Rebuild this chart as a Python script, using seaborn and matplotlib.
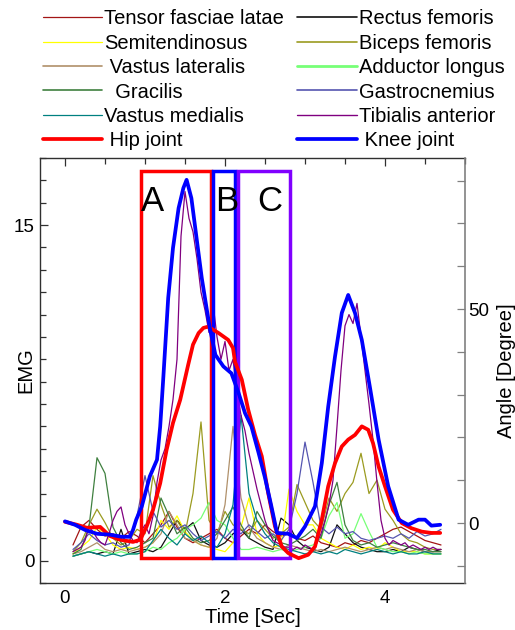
import pandas as pd
import seaborn as sns
import matplotlib.pyplot as plt
from matplotlib.lines import Line2D
from matplotlib.patches import Rectangle
from matplotlib.ticker import MultipleLocator, FixedLocator

# EMG sample times [s] (0.1 s steps)
time_emg = [0.1, 0.2, 0.3, 0.4, 0.5, 0.6, 0.7, 0.8, 0.9, 1.0,
            1.1, 1.2, 1.3, 1.4, 1.5, 1.6, 1.7, 1.8, 1.9, 2.0,
            2.1, 2.2, 2.3, 2.4, 2.5, 2.6, 2.7, 2.8, 2.9, 3.0,
            3.1, 3.2, 3.3, 3.4, 3.5, 3.6, 3.7, 3.8, 3.9, 4.0,
            4.1, 4.2, 4.3, 4.4, 4.5, 4.6, 4.7]

tensor_fasciae_latae = [0.7, 1.5, 1.8, 1.4, 1.1, 1.2, 1.0, 1.3, 1.1, 0.8,
                        1.2, 1.6, 2.2, 1.5, 1.0, 0.8, 1.0, 1.2, 1.4, 1.0,
                        0.8, 1.1, 1.4, 1.2, 1.6, 1.3, 1.1, 1.2, 1.0, 0.9,
                        1.1, 0.8, 0.7, 0.6, 0.8, 0.7, 0.9, 0.8, 1.0, 1.2,
                        1.4, 1.5, 1.3, 1.1, 0.9, 0.8, 0.7]
rectus_femoris = [0.2, 0.3, 0.4, 0.3, 0.4, 0.3, 1.4, 0.3, 0.4, 0.5,
                  0.4, 0.6, 1.2, 1.8, 1.4, 1.7, 0.9, 0.7, 0.6, 0.8,
                  1.2, 1.4, 1.0, 0.8, 0.6, 0.5, 1.9, 1.6, 0.9, 0.6,
                  0.5, 0.4, 0.6, 1.6, 1.2, 0.8, 0.6, 0.5, 0.4, 0.4,
                  0.5, 0.4, 0.6, 0.5, 0.4, 0.4, 0.5]
semitendinosus = [0.3, 0.6, 0.9, 1.5, 1.2, 0.7, 0.5, 0.6, 0.5, 0.6,
                  0.8, 1.8, 1.4, 2.0, 1.3, 0.9, 0.7, 0.6, 0.5, 0.4,
                  0.8, 1.5, 2.8, 1.2, 0.8, 0.6, 0.7, 3.2, 2.2, 1.6,
                  1.6, 1.0, 0.8, 0.6, 0.5, 0.7, 0.5, 0.6, 0.5, 0.8,
                  0.6, 0.4, 0.4, 0.4, 0.3, 0.3, 0.3]
biceps_femoris = [0.4, 0.8, 1.6, 2.3, 1.7, 1.0, 0.7, 0.9, 1.4, 1.2,
                  3.8, 2.5, 1.5, 1.8, 1.2, 3.0, 6.2, 1.8, 1.2, 2.2,
                  1.6, 1.4, 1.2, 1.8, 1.4, 1.0, 1.2, 1.5, 3.4, 2.6,
                  1.8, 1.4, 2.8, 2.2, 3.0, 3.5, 4.8, 3.0, 3.6, 2.3,
                  1.8, 1.2, 0.9, 0.8, 0.6, 0.5, 0.5]
vastus_lateralis = [0.3, 0.4, 0.6, 0.8, 0.5, 0.4, 0.5, 0.4, 0.5, 0.6,
                    0.8, 1.2, 2.2, 1.6, 1.0, 0.9, 0.7, 0.6, 1.0, 2.5,
                    6.0, 2.8, 1.5, 1.0, 0.8, 0.6, 0.5, 0.7, 0.6, 0.5,
                    0.4, 0.5, 0.4, 0.5, 0.6, 0.5, 0.4, 0.5, 0.6, 0.5,
                    0.6, 0.5, 0.4, 0.5, 0.4, 0.4, 0.4]
adductor_longus = [0.2, 0.3, 0.4, 0.5, 0.4, 0.3, 0.4, 0.3, 0.3, 0.4,
                   0.6, 0.5, 0.8, 1.0, 1.4, 1.6, 1.9, 2.6, 1.8, 1.6,
                   1.0, 0.5, 0.5, 0.6, 0.5, 0.4, 0.5, 0.4, 0.5, 0.6,
                   0.7, 1.0, 2.0, 2.6, 1.0, 1.2, 2.1, 1.3, 0.6, 0.5,
                   0.4, 0.4, 0.3, 0.4, 0.3, 0.3, 0.3]
gracilis = [0.3, 0.5, 1.5, 4.6, 3.9, 1.5, 0.8, 0.5, 0.6, 0.8,
            1.0, 2.8, 2.0, 1.2, 1.5, 1.0, 0.8, 0.9, 1.2, 1.8,
            2.4, 1.6, 1.0, 2.2, 1.6, 1.1, 0.8, 0.7, 0.9, 1.1,
            1.4, 1.0, 2.5, 3.5, 1.6, 0.9, 0.7, 0.8, 0.6, 0.7,
            0.8, 0.7, 0.6, 0.5, 0.5, 0.4, 0.4]
gastrocnemius = [0.5, 0.8, 1.2, 0.9, 0.7, 0.8, 0.6, 0.7, 2.0, 3.8,
                 2.2, 1.5, 1.8, 1.4, 1.6, 1.2, 0.9, 1.1, 1.3, 1.0,
                 1.4, 1.2, 1.6, 1.3, 1.0, 1.2, 0.9, 1.4, 3.0, 5.3,
                 3.5, 1.5, 1.2, 1.5, 1.2, 1.3, 1.0, 0.9, 1.0, 1.1,
                 1.0, 1.2, 1.0, 1.3, 1.1, 1.2, 1.4]
vastus_medialis = [0.2, 0.3, 0.4, 0.3, 0.2, 0.3, 0.2, 0.3, 0.3, 0.4,
                   0.9, 1.4, 1.0, 0.7, 1.2, 0.9, 1.1, 0.8, 0.6, 1.2,
                   2.5, 6.5, 3.0, 1.8, 1.2, 0.8, 0.6, 0.5, 0.4, 0.3,
                   0.4, 0.3, 0.4, 0.3, 0.5, 0.4, 0.3, 0.4, 0.5, 0.4,
                   0.3, 0.4, 0.3, 0.3, 0.4, 0.3, 0.3]

# Tibialis anterior read at 0.05 s steps (spiky signal)
time_ta = [0.10, 0.15, 0.20, 0.25, 0.30, 0.35, 0.40, 0.45, 0.50, 0.55,
           0.60, 0.65, 0.70, 0.75, 0.80, 0.85, 0.90, 0.95, 1.00, 1.05,
           1.10, 1.15, 1.20, 1.25, 1.30, 1.35, 1.40, 1.45, 1.50, 1.55,
           1.60, 1.65, 1.70, 1.75, 1.80, 1.85, 1.90, 1.95, 2.00, 2.05,
           2.10, 2.15, 2.20, 2.25, 2.30, 2.35, 2.40, 2.45, 2.50, 2.55,
           2.60, 2.65, 2.70, 2.75, 2.80, 2.85, 2.90, 2.95, 3.00, 3.05,
           3.10, 3.15, 3.20, 3.25, 3.30, 3.35, 3.40, 3.45, 3.50, 3.55,
           3.60, 3.65, 3.70, 3.75, 3.80, 3.85, 3.90, 3.95, 4.00, 4.05,
           4.10, 4.15, 4.20, 4.25, 4.30, 4.35, 4.40, 4.45, 4.50, 4.55,
           4.60, 4.65, 4.70]
tibialis_anterior = [0.4, 0.5, 0.6, 0.9, 1.5, 1.3, 1.0, 0.8, 0.7, 1.2,
                     1.8, 2.2, 2.4, 1.6, 1.2, 0.9, 0.8, 1.3, 1.6, 1.2,
                     2.0, 3.5, 4.5, 5.0, 6.0, 7.2, 9.0, 14.5, 16.5, 15.3,
                     14.7, 13.5, 12.0, 11.2, 10.2, 11.5, 10.0, 9.0, 9.8, 8.5,
                     9.0, 7.5, 6.5, 5.8, 4.8, 4.0, 3.2, 2.5, 1.8, 1.3,
                     0.9, 0.8, 0.7, 0.6, 0.6, 0.5, 0.6, 0.5, 0.7, 0.6,
                     0.5, 0.8, 1.2, 1.8, 2.5, 3.6, 6.0, 8.5, 10.5, 11.0,
                     10.6, 11.5, 10.0, 8.5, 7.0, 5.4, 3.5, 1.8, 1.0, 0.7,
                     0.9, 0.8, 0.7, 0.8, 0.6, 0.7, 0.6, 0.5, 0.6, 0.5,
                     0.6, 0.5, 0.5]

# joint angles [deg]
time_hip = [0.0, 0.15, 0.275, 0.44, 0.56, 0.69, 0.85, 0.94, 1.02, 1.10,
            1.19, 1.27, 1.35, 1.44, 1.54, 1.60, 1.67, 1.73, 1.79, 1.85,
            1.92, 1.98, 2.04, 2.10, 2.125, 2.21, 2.29, 2.375, 2.46, 2.54,
            2.625, 2.71, 2.79, 2.92, 3.04, 3.125, 3.21, 3.29, 3.375, 3.46,
            3.54, 3.625, 3.71, 3.79, 3.85, 3.92, 4.0, 4.10, 4.21, 4.33,
            4.46, 4.58, 4.69]
hip_angle = [0.3, -0.4, -1.1, -0.9, -3.0, -3.9, -4.4, -3.9, -0.8, 3.1,
             9.3, 17.1, 23.4, 28.8, 37.0, 41.7, 44.4, 45.6, 45.9, 45.2,
             44.4, 43.6, 42.8, 40.9, 37.7, 33.5, 26.5, 20.6, 15.6, 7.0,
             -0.8, -5.5, -7.0, -8.2, -7.4, -5.5, 0.8, 8.6, 14.0, 17.9,
             19.5, 20.6, 22.6, 21.8, 18.7, 13.2, 8.6, 3.1, 0.0, -1.2,
             -2.0, -2.3, -2.3]
time_knee = [0.0, 0.125, 0.25, 0.4, 0.56, 0.71, 0.81, 0.85, 0.89, 0.96,
             1.06, 1.15, 1.19, 1.23, 1.29, 1.35, 1.42, 1.48, 1.52, 1.58,
             1.65, 1.71, 1.77, 1.81, 1.88, 1.98, 2.08, 2.17, 2.25, 2.33,
             2.42, 2.50, 2.58, 2.65, 2.79, 2.90, 3.0, 3.125, 3.21, 3.29,
             3.375, 3.46, 3.54, 3.625, 3.71, 3.81, 3.92, 4.04, 4.17, 4.29,
             4.42, 4.50, 4.58, 4.69]
knee_angle = [0.4, -0.4, -1.6, -2.5, -2.7, -3.2, -3.2, -1.6, 0.8, 3.9,
              10.9, 14.8, 22.6, 34.3, 52.6, 64.3, 73.6, 78.3, 80.2, 75.9,
              65.8, 57.2, 50.2, 45.6, 39.3, 36.6, 35.0, 30.4, 25.7, 22.6,
              16.4, 10.6, 3.9, -2.3, -2.5, -3.5, -0.8, 3.9, 14.0, 27.2,
              38.9, 49.1, 53.3, 49.1, 42.8, 31.9, 19.5, 8.6, 0.8, -0.4,
              0.8, 0.8, -0.6, -0.4]

# gait phases
phase_labels = ['A', 'B', 'C']
phase_start = [0.95, 1.85, 2.165]
phase_end = [1.82, 2.12, 2.81]
phase_colors = ['#ff0000', '#0000ff', '#8000ff']

muscle_colors = {
    'Tensor fasciae latae': '#a31515',
    'Rectus femoris': '#101010',
    'Semitendinosus': '#ffff00',
    'Biceps femoris': '#9b9b20',
    'Vastus lateralis': '#b0906a',
    'Adductor longus': '#77ff77',
    'Gracilis': '#3f803f',
    'Gastrocnemius': '#5555b0',
    'Vastus medialis': '#008080',
    'Tibialis anterior': '#800080',
}
joint_colors = {'Hip joint': '#ff0000', 'Knee joint': '#0000ff'}

emg_series = {
    'Tensor fasciae latae': tensor_fasciae_latae,
    'Rectus femoris': rectus_femoris,
    'Semitendinosus': semitendinosus,
    'Biceps femoris': biceps_femoris,
    'Vastus lateralis': vastus_lateralis,
    'Adductor longus': adductor_longus,
    'Gracilis': gracilis,
    'Gastrocnemius': gastrocnemius,
    'Vastus medialis': vastus_medialis,
}

frames = [pd.DataFrame({'t': time_emg, 'emg': v, 'muscle': k}) for k, v in emg_series.items()]
frames.append(pd.DataFrame({'t': time_ta, 'emg': tibialis_anterior, 'muscle': 'Tibialis anterior'}))
emg_df = pd.concat(frames, ignore_index=True)

joint_df = pd.concat([
    pd.DataFrame({'t': time_hip, 'angle': hip_angle, 'joint': 'Hip joint'}),
    pd.DataFrame({'t': time_knee, 'angle': knee_angle, 'joint': 'Knee joint'}),
], ignore_index=True)

sns.set_style('white')
plt.rcParams['font.family'] = ['Liberation Sans', 'DejaVu Sans']
plt.rcParams['text.color'] = 'black'
plt.rcParams['axes.labelcolor'] = 'black'
plt.rcParams['xtick.labelcolor'] = 'black'
plt.rcParams['ytick.labelcolor'] = 'black'

fig = plt.figure(figsize=(5.15, 6.3), dpi=100)
ax = fig.add_axes([40/515, 1-583/630, 425/515, 425/630])

sns.lineplot(data=emg_df, x='t', y='emg', hue='muscle', hue_order=list(muscle_colors),
             palette=muscle_colors, estimator=None, lw=0.9, ax=ax, legend=False)

# phase boxes
box_bottom, box_top = 0.13, 17.41
for lab, s, e, c in zip(phase_labels, phase_start, phase_end, phase_colors):
    ax.add_patch(Rectangle((s, box_bottom), e - s, box_top - box_bottom,
                           fill=False, ec=c, lw=2.5, zorder=5))
label_x = [0.95, 1.875, 2.40]
for lab, x in zip(phase_labels, label_x):
    ax.text(x, 16.07, lab, fontsize=25, color='black', ha='left', va='center', zorder=6)

ax.set_xlim(-0.3125, 5.0)
ax.set_ylim(-1, 18)
ax.xaxis.set_major_locator(FixedLocator([0, 2, 4]))
ax.xaxis.set_minor_locator(MultipleLocator(0.5))
ax.yaxis.set_major_locator(FixedLocator([0, 15]))
ax.yaxis.set_minor_locator(MultipleLocator(1))
ax.tick_params(axis='both', which='both', direction='in', top=True, right=False,
               labelsize=13.5, color='#303030', labelcolor='black')
ax.tick_params(axis='both', which='major', length=6, width=0.9)
ax.tick_params(axis='both', which='minor', length=4, width=0.9)
ax.tick_params(axis='y', pad=4)
ax.tick_params(axis='x', pad=5)
ax.set_xlabel('Time [Sec]', fontsize=14.5, labelpad=1, color='black')
ax.set_ylabel('EMG', fontsize=14.5, color='black')
ax.yaxis.set_label_coords(-0.012, 0.5)
for side in ['left', 'bottom', 'top']:
    ax.spines[side].set_color('#303030')
    ax.spines[side].set_linewidth(1.0)
ax.spines['right'].set_visible(False)

ax2 = ax.twinx()
sns.lineplot(data=joint_df, x='t', y='angle', hue='joint', hue_order=['Hip joint', 'Knee joint'],
             palette=joint_colors, estimator=None, sort=False, lw=2.7, ax=ax2, legend=False)
ax2.set_ylim(-14, 85.3)
ax2.yaxis.set_major_locator(FixedLocator([0, 50]))
ax2.yaxis.set_minor_locator(MultipleLocator(10))
ax2.tick_params(axis='y', which='both', direction='in', left=False, right=True,
                labelsize=13.5, color='#808080', labelcolor='black', pad=2)
ax2.tick_params(axis='y', which='major', length=6, width=0.9)
ax2.tick_params(axis='y', which='minor', length=6, width=0.9)
ax2.set_ylabel('Angle [Degree]', fontsize=14.5, color='black')
ax2.yaxis.set_label_coords(1.075, 0.5)
ax2.set_xlabel('')
for side in ['left', 'bottom', 'top']:
    ax2.spines[side].set_visible(False)
ax2.spines['right'].set_color('#808080')
ax2.spines['right'].set_linewidth(1.2)

# legend: column-major order for ncol=2
col1 = [('Tensor fasciae latae', 'Tensor fasciae latae', 0.9),
        ('Semitendinosus', 'Semitendinosus', 0.9),
        ('Vastus lateralis', ' Vastus lateralis', 1.2),
        ('Gracilis', '  Gracilis', 1.2),
        ('Vastus medialis', 'Vastus medialis', 0.9),
        ('Hip joint', ' Hip joint', 2.7)]
col2 = [('Rectus femoris', 'Rectus femoris', 1.2),
        ('Biceps femoris', 'Biceps femoris', 1.2),
        ('Adductor longus', 'Adductor longus', 2.0),
        ('Gastrocnemius', 'Gastrocnemius', 1.2),
        ('Tibialis anterior', 'Tibialis anterior', 1.0),
        ('Knee joint', ' Knee joint', 2.7)]
all_colors = {**muscle_colors, **joint_colors}
handles, labels = [], []
for key, text, lw in col1 + col2:
    handles.append(Line2D([], [], color=all_colors[key], lw=lw))
    labels.append(text)
leg = fig.legend(handles, labels, ncol=2, loc='upper left', bbox_to_anchor=(43/515, 1-9.5/630),
                 frameon=False, fontsize=14.5, handlelength=2.95, handletextpad=0.1,
                 columnspacing=0.65, labelspacing=0.265, borderpad=0, borderaxespad=0)
for txt in leg.get_texts():
    txt.set_color('black')

fig.savefig('out.png', dpi=100)
